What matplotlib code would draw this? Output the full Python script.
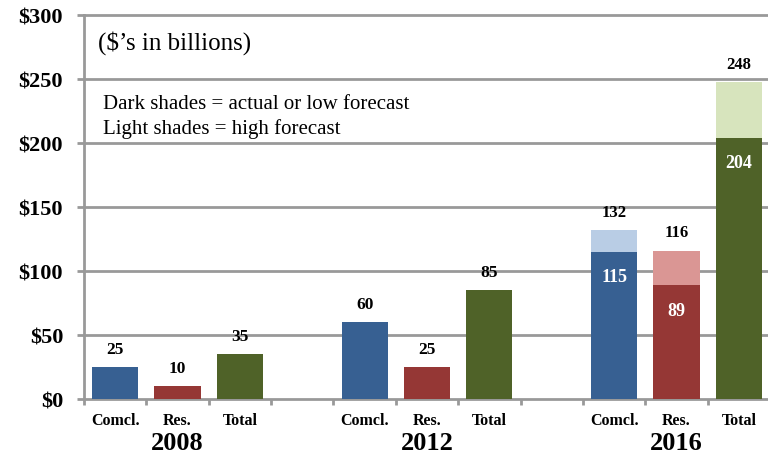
import matplotlib
matplotlib.use("Agg")
import matplotlib.pyplot as plt

plt.rcParams['font.family'] = ['Liberation Serif', 'DejaVu Serif']

years = ['2008', '2012', '2016']
categories = ['Comcl.', 'Res.', 'Total']
# dark shades = actual or low forecast
low_values = [[25, 10, 35], [60, 25, 85], [115, 89, 204]]
# light shades = high forecast (only 2016)
high_values = [None, None, [132, 116, 248]]
y_ticks = [0, 50, 100, 150, 200, 250, 300]
y_labels = ['$0', '$50', '$100', '$150', '$200', '$250', '$300']

dark_colors = ['#376092', '#953735', '#4F6228']
light_colors = ['#B9CDE5', '#DA9694', '#D7E4BD']
grid_c = '#999999'

fig = plt.figure(figsize=(7.68, 4.56), dpi=100)
ax = fig.add_axes([84 / 768, 1 - 400 / 456, 686 / 768, 384 / 456])

n_slots = 11
for gi, year in enumerate(years):
    base = gi * 4
    for ci, cat in enumerate(categories):
        x = base + ci + 0.5
        lo = low_values[gi][ci]
        ax.bar(x, lo, width=0.74, color=dark_colors[ci], zorder=3)
        hv = high_values[gi]
        if hv is not None:
            ax.bar(x, hv[ci] - lo, bottom=lo, width=0.74, color=light_colors[ci], zorder=3)
            ax.annotate(str(hv[ci]), (x, hv[ci]), xytext=(0, 13), textcoords='offset points',
                        ha='center', va='center', fontsize=12, fontweight='bold', annotation_clip=False)
            ax.annotate(str(lo), (x, lo), xytext=(0, -18), textcoords='offset points',
                        ha='center', va='center', fontsize=13, fontweight='bold', color='white')
        else:
            ax.annotate(str(lo), (x, lo), xytext=(0, 13), textcoords='offset points',
                        ha='center', va='center', fontsize=12.5, fontweight='bold')
        ax.text(x, -16.5, cat, ha='center', va='center', fontsize=11.5, fontweight='bold')
    ax.text(base + 1.5, -34, year, ha='center', va='center', fontsize=19, fontweight='bold')

ax.set_xlim(0, n_slots)
ax.set_ylim(0, 300)
ax.set_yticks(y_ticks)
ax.set_yticklabels(y_labels, fontsize=16, fontweight='bold')
ax.tick_params(axis='y', length=5, width=2, color=grid_c, pad=10)
ax.set_xticks(range(n_slots + 1))
ax.set_xticklabels([])
ax.tick_params(axis='x', length=4, width=2, color=grid_c)

for v in y_ticks[1:]:
    ax.axhline(v, color=grid_c, lw=2, zorder=1, clip_on=False)

for s in ['top', 'right']:
    ax.spines[s].set_visible(False)
for s in ['left', 'bottom']:
    ax.spines[s].set_color(grid_c)
    ax.spines[s].set_linewidth(2)

ax.text(0.23, 279, "($\u2019s in billions)", fontsize=18, va='center', ha='left')
ax.text(0.3, 230.5, "Dark shades = actual or low forecast", fontsize=15, va='center', ha='left')
ax.text(0.3, 211.5, "Light shades = high forecast", fontsize=15, va='center', ha='left')

fig.savefig('out.png', dpi=100)
